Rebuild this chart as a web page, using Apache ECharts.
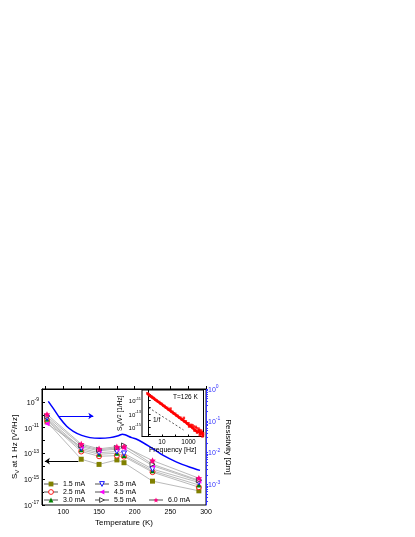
<!DOCTYPE html>
<html>
<head>
<meta charset="utf-8">
<script src="https://cdn.jsdelivr.net/npm/echarts@6/dist/echarts.min.js"></script>
<style>
html, body { margin: 0; padding: 0; background: #fff; }
#chart { width: 415px; height: 537px; }
</style>
</head>
<body>
<div id="chart"></div>
<script>
// measurement temperatures (K)
const temps = [77, 125, 150, 175, 185, 225, 290];
// log10 of S_V at 1 Hz [V^2/Hz], one array per bias current
const logS_1p5 = [-10.55, -13.45, -13.85, -13.5, -13.72, -15.15, -15.9];
const logS_2p5 = [-10.45, -12.85, -13.22, -13.17, -13.25, -14.45, -15.62];
const logS_3p0 = [-10.35, -12.72, -13.06, -12.99, -13.15, -14.35, -15.45];
const logS_3p5 = [-10.25, -12.6, -12.94, -12.85, -13.0, -14.22, -15.25];
const logS_4p5 = [-10.7, -12.48, -12.8, -12.66, -12.6, -13.95, -15.15];
const logS_5p5 = [-10.12, -12.38, -12.72, -12.57, -12.38, -13.84, -15.08];
const logS_6p0 = [-9.97, -12.27, -12.64, -12.48, -12.46, -13.55, -14.92];

// resistivity curve: temperature (K) and log10 of resistivity [Ohm m]
const rhoT = [78.8, 85.8, 95.2, 104.6, 113.9, 125.7, 137.3, 151.3, 165.4, 177, 182.9, 186.4, 195.8, 202.8, 221.5, 240.1, 258.9, 277.6, 291.6];
const logRho = [-0.39, -0.61, -0.92, -1.17, -1.33, -1.46, -1.53, -1.55, -1.53, -1.47, -1.42, -1.44, -1.53, -1.58, -1.82, -2.09, -2.3, -2.46, -2.56];

// inset: noise spectrum at T=126 K, log10 f [Hz] vs log10 S_V/V^2 [1/Hz]
const specLogF = [-0.1, 0, 0.1, 0.2, 0.3, 0.4, 0.5, 0.6, 0.7, 0.8, 0.9, 1.0, 1.1, 1.2, 1.3, 1.4, 1.5, 1.6, 1.7, 1.8, 1.9, 2.0,
    2.1, 2.2, 2.3, 2.4, 2.5, 2.6, 2.7, 2.8, 2.9, 3.0, 3.1, 3.2, 3.3, 3.4, 3.5, 3.6, 3.7, 3.8, 3.9, 4.0, 4.1];
const specLogS = [-9.9, -10.05, -10.28, -10.35, -10.55, -10.62, -10.85, -10.95, -11.15, -11.22, -11.45, -11.5, -11.75, -11.82,
    -12.05, -12.1, -12.35, -12.4, -12.65, -12.7, -12.95, -12.98, -13.25, -13.3, -13.55, -13.58, -13.85, -13.88, -14.15, -14.12,
    -14.45, -14.4, -14.8, -14.65, -15.1, -14.9, -15.45, -15.15, -15.75, -15.4, -16.05, -15.7, -16.25];
const noiseLogF = [1.65, 2.65, 3.05, 3.3, 3.45, 3.55, 3.65, 3.75, 3.85, 3.95, 4.05, 4.1];
const noiseLogS = [-12.2, -13.6, -14.9, -14.7, -15.5, -14.95, -15.8, -15.2, -16.2, -15.5, -16.4, -15.9];
// 1/f guide line
const guideLogF = [0.0, 2.63];
const guideLogS = [-12.06, -15.42];

// axis tick labels
const xLabels = [100, 150, 200, 250, 300];
const leftLabels = [-17, -15, -13, -11, -9];
const rightLabels = [-3, -2, -1, 0];
const insetXLabels = [1, 3];
const insetYLabels = [-15, -13, -11];

const font = 'Liberation Sans, Arial, sans-serif';
const pow = v => '{b|10}{s|' + v + '}';
const powRich = (size, color) => ({
    b: { fontSize: size, lineHeight: size + 2, verticalAlign: 'bottom', color: color, fontFamily: font },
    s: { fontSize: size - 2, lineHeight: size - 2, verticalAlign: 'top', color: color, fontFamily: font }
});
const pair = (xs, ys) => xs.map((x, i) => [x, ys[i]]);

// log minor ticks for the resistivity axis
const rightTicks = [];
for (let n = -4; n <= 0; n++) {
    for (let k = 1; k <= 9; k++) {
        const v = n + Math.log10(k);
        if (v >= -3.65 && v <= 0) rightTicks.push(v);
    }
}

const star = 'path://M0,-10L2.9,-4L9.5,-3.1L4.7,1.5L5.9,8.1L0,5L-5.9,8.1L-4.7,1.5L-9.5,-3.1L-2.9,-4Z';
const currents = [
    { name: '1.5 mA', data: logS_1p5, symbol: 'rect', color: '#808000', hollow: false, rotate: 0 },
    { name: '2.5 mA', data: logS_2p5, symbol: 'circle', color: '#ff0000', hollow: true, rotate: 0 },
    { name: '3.0 mA', data: logS_3p0, symbol: 'triangle', color: '#008000', hollow: false, rotate: 0 },
    { name: '3.5 mA', data: logS_3p5, symbol: 'triangle', color: '#0000ff', hollow: true, rotate: 180 },
    { name: '4.5 mA', data: logS_4p5, symbol: 'triangle', color: '#ff00ff', hollow: false, rotate: 90 },
    { name: '5.5 mA', data: logS_5p5, symbol: 'triangle', color: '#333333', hollow: true, rotate: -90 },
    { name: '6.0 mA', data: logS_6p0, symbol: star, color: '#ff0080', hollow: false, rotate: 0 }
];

const markStyle = c => c.hollow
    ? { color: '#fff', borderColor: c.color, borderWidth: 0.9 }
    : { color: c.color, borderColor: c.color, borderWidth: 0 };

const series = currents.map(c => ({
    name: c.name,
    type: 'line',
    xAxisIndex: 0,
    yAxisIndex: 0,
    data: pair(temps, c.data),
    symbol: c.symbol,
    symbolSize: c.symbol === star ? 6.5 : 5,
    symbolRotate: c.rotate,
    lineStyle: { color: '#a8a8a8', width: 0.8 },
    itemStyle: markStyle(c),
    z: 3
}));

// the black arrow points to the left axis
series[0].markLine = {
    silent: true,
    symbol: ['none', 'arrow'],
    symbolSize: 5,
    label: { show: false },
    lineStyle: { color: '#000', width: 1, type: 'solid' },
    data: [[{ coord: [121, -13.6] }, { coord: [74, -13.6] }]]
};

series.push({
    name: 'resistivity',
    type: 'line',
    xAxisIndex: 0,
    yAxisIndex: 1,
    data: pair(rhoT, logRho),
    showSymbol: false,
    smooth: 0.3,
    lineStyle: { color: '#0000ff', width: 1.5 },
    z: 2,
    markLine: {
        silent: true,
        symbol: ['none', 'arrow'],
        symbolSize: 5,
        label: { show: false },
        lineStyle: { color: '#0000ff', width: 1, type: 'solid' },
        data: [[{ coord: [94, -0.85] }, { coord: [142, -0.85] }]]
    }
});

series.push({
    type: 'line',
    xAxisIndex: 1,
    yAxisIndex: 2,
    data: pair(specLogF, specLogS),
    showSymbol: false,
    lineStyle: { color: '#ff0000', width: 2.5 },
    z: 6
});
series.push({
    type: 'scatter',
    xAxisIndex: 1,
    yAxisIndex: 2,
    data: pair(noiseLogF, noiseLogS).concat(pair(specLogF, specLogS)),
    symbol: 'rect',
    symbolSize: 2.5,
    itemStyle: { color: '#ff0000' },
    z: 6
});
series.push({
    type: 'line',
    xAxisIndex: 1,
    yAxisIndex: 2,
    data: pair(guideLogF, guideLogS),
    showSymbol: false,
    lineStyle: { color: '#333', width: 0.8, type: [2, 2] },
    z: 6
});

const legendBase = {
    orient: 'vertical',
    padding: 0,
    itemGap: 0,
    itemWidth: 14,
    itemHeight: 6,
    textStyle: { fontSize: 7, fontFamily: font, color: '#000', lineHeight: 8 }
};
const legendItems = names => names.map(n => {
    const c = currents.find(d => d.name === n);
    return { name: n, itemStyle: markStyle(c) };
});

const option = {
    animation: false,
    backgroundColor: '#fff',
    textStyle: { fontFamily: font },
    grid: [
        { left: 42, right: 209, top: 389, bottom: 32, show: true, borderColor: '#000', borderWidth: 1 },
        { left: 142, top: 390, width: 61.5, height: 46.5, show: true, borderColor: '#000', borderWidth: 1, backgroundColor: '#fff', z: 4 }
    ],
    legend: [
        Object.assign({ left: 43, top: 480, data: legendItems(['1.5 mA', '2.5 mA', '3.0 mA']) }, legendBase),
        Object.assign({ left: 94, top: 480, data: legendItems(['3.5 mA', '4.5 mA', '5.5 mA']) }, legendBase),
        Object.assign({ left: 148, top: 496, data: legendItems(['6.0 mA']) }, legendBase)
    ],
    xAxis: [
        {
            type: 'value', gridIndex: 0, min: 70, max: 300,
            axisLine: { lineStyle: { color: '#000', width: 1 } },
            axisTick: { inside: true, length: 3, customValues: [75, 100, 125, 150, 175, 200, 225, 250, 275, 300], lineStyle: { color: '#000' } },
            axisLabel: { customValues: xLabels, fontSize: 7, color: '#000', margin: 4 },
            splitLine: { show: false },
            name: 'Temperature (K)', nameLocation: 'middle', nameGap: 14,
            nameTextStyle: { fontSize: 8, color: '#000' }
        },
        {
            type: 'value', gridIndex: 1, min: -0.5, max: 4.13,
            axisLine: { lineStyle: { color: '#000', width: 1 } },
            axisTick: { inside: true, length: 2, customValues: [0, 1, 2, 3, 4], lineStyle: { color: '#000' } },
            axisLabel: { customValues: insetXLabels, fontSize: 6.5, color: '#000', margin: 2, formatter: v => String(Math.round(Math.pow(10, v))) },
            splitLine: { show: false },
            name: 'Frequency [Hz]', nameLocation: 'middle', nameGap: 10,
            nameTextStyle: { fontSize: 7, color: '#000' },
            z: 5
        }
    ],
    yAxis: [
        {
            type: 'value', gridIndex: 0, position: 'left', min: -17, max: -8,
            axisLine: { show: true, lineStyle: { color: '#000', width: 1 } },
            axisTick: { show: true, inside: true, length: 3, customValues: [-17, -16, -15, -14, -13, -12, -11, -10, -9, -8], lineStyle: { color: '#000' } },
            axisLabel: { customValues: leftLabels, formatter: pow, margin: 3, rich: powRich(7, '#000') },
            splitLine: { show: false },
            name: '{n|S}{sub|V}{n| at 1 Hz [V}{sup|2}{n|/Hz]}',
            nameLocation: 'middle', nameRotate: 90, nameGap: 19,
            nameTextStyle: {
                rich: {
                    n: { fontSize: 8, lineHeight: 10, verticalAlign: 'middle', color: '#000', fontFamily: font },
                    sub: { fontSize: 6, lineHeight: 6, verticalAlign: 'bottom', color: '#000', fontFamily: font },
                    sup: { fontSize: 6, lineHeight: 6, verticalAlign: 'top', color: '#000', fontFamily: font }
                }
            }
        },
        {
            type: 'value', gridIndex: 0, position: 'right', min: -3.65, max: 0,
            axisLine: { show: true, lineStyle: { color: '#3333ff', width: 1 } },
            axisTick: { show: true, length: 2, customValues: rightTicks, lineStyle: { color: '#3333ff' } },
            axisLabel: { customValues: rightLabels, formatter: pow, margin: 2, rich: powRich(7, '#3333ff') },
            splitLine: { show: false },
            name: 'Resistivity [Ωm]',
            nameLocation: 'middle', nameRotate: -90, nameGap: 17,
            nameTextStyle: { fontSize: 8, color: '#000' }
        },
        {
            type: 'value', gridIndex: 1, min: -16.4, max: -9.4,
            axisLine: { show: true, lineStyle: { color: '#000', width: 1 } },
            axisTick: { show: true, inside: true, length: 2, customValues: [-16, -15, -14, -13, -12, -11, -10], lineStyle: { color: '#000' } },
            axisLabel: { customValues: insetYLabels, formatter: pow, margin: 1, rich: powRich(6, '#000') },
            splitLine: { show: false },
            name: '{n|S}{sub|V}{n|/V}{sup|2}{n| [1/Hz]}',
            nameLocation: 'middle', nameRotate: 90, nameGap: 16,
            nameTextStyle: {
                rich: {
                    n: { fontSize: 6.5, lineHeight: 8, verticalAlign: 'middle', color: '#000', fontFamily: font },
                    sub: { fontSize: 5, lineHeight: 5, verticalAlign: 'bottom', color: '#000', fontFamily: font },
                    sup: { fontSize: 5, lineHeight: 5, verticalAlign: 'top', color: '#000', fontFamily: font }
                }
            },
            z: 5
        }
    ],
    graphic: [
        { type: 'text', left: 173, top: 394, z: 10, style: { text: 'T=126 K', fontSize: 6.5, fontFamily: font, fill: '#000' } },
        { type: 'text', left: 153, top: 417, z: 10, style: { text: '1/f', fontSize: 6.5, fontFamily: font, fill: '#000' } }
    ],
    series: series
};

const chart = echarts.init(document.getElementById('chart'));
chart.setOption(option);
</script>
</body>
</html>
